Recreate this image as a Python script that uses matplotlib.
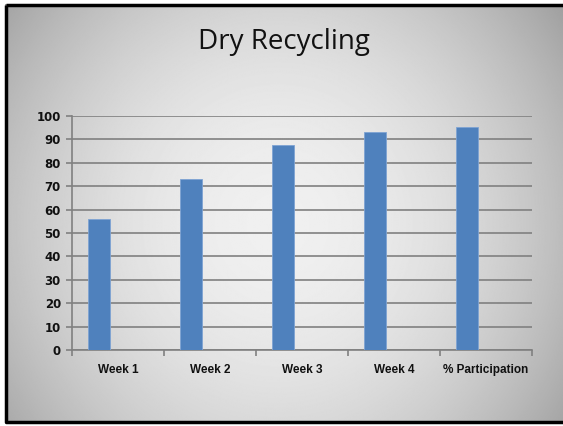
import matplotlib
matplotlib.use("Agg")
import matplotlib.pyplot as plt
import numpy as np

# data
categories = ["Week 1", "Week 2", "Week 3", "Week 4", "% Participation"]
values = [56, 73, 87.5, 93, 95.5]
y_ticks = list(range(0, 101, 10))

W, H = 563, 426
fig = plt.figure(figsize=(W / 100, H / 100), dpi=100)
fig.patch.set_facecolor("white")

# background: radial grey gradient like the slide
bg = fig.add_axes([0, 0, 1, 1])
yy, xx = np.mgrid[0:H, 0:W]
r2 = ((xx - 275) / 360.0) ** 2 + ((yy - 225) / 380.0) ** 2
shade = np.clip(0.94 - 0.32 * r2, 0.5, 1.0)
bg.imshow(shade, cmap="gray", vmin=0, vmax=1, aspect="auto",
          extent=[5, W, 422, 4], interpolation="bilinear")
bg.set_xlim(0, W)
bg.set_ylim(H, 0)
bg.axis("off")
# frame: top, left and bottom edges only
bg.plot([6, 6, W], [4.5, 422, 422], color="black", linewidth=2.5,
        solid_capstyle="butt")
bg.plot([6, W], [4.5, 4.5], color="black", linewidth=2.5,
        solid_capstyle="butt")

fig.text(0.505, 1 - 42 / H, "Dry Recycling", ha="center", va="center",
         fontsize=20, family=["Open Sans", "DejaVu Sans"], color="#111111")

ax = fig.add_axes([72 / W, 1 - 350 / H, (532 - 72) / W, (350 - 116) / H])
ax.patch.set_alpha(0)
x = np.arange(len(categories))
# bars sit left of the category centre, like the original
ax.bar(x - 0.21, values, width=0.24, color="#4f81bd", edgecolor="#7ea3d3",
       linewidth=0.6, zorder=3)

ax.set_xlim(-0.5, len(categories) - 0.5)
ax.set_ylim(0, 100)
ax.set_yticks(y_ticks)
ax.set_yticklabels([str(v) for v in y_ticks], fontsize=8.5, fontweight="bold",
                   family=["DejaVu Sans"], color="#111111")
ax.yaxis.grid(True, color="#808080", linewidth=1.2, zorder=1)
ax.set_axisbelow(True)

ax.set_xticks(x)
ax.set_xticklabels(categories, fontsize=8.5, fontweight="bold",
                   family=["Liberation Sans", "DejaVu Sans"], color="#111111")
ax.set_xticks(np.arange(len(categories) + 1) - 0.5, minor=True)
ax.tick_params(axis="x", which="major", length=0, pad=10)
ax.tick_params(axis="x", which="minor", length=4, color="#808080", width=1.2)
ax.tick_params(axis="y", length=4, color="#808080", width=1.2, pad=4)

for side in ["top", "right"]:
    ax.spines[side].set_visible(False)
ax.spines["left"].set_color("#808080")
ax.spines["bottom"].set_color("#808080")
ax.spines["left"].set_linewidth(1.2)
ax.spines["bottom"].set_linewidth(1.2)

fig.savefig("out.png", dpi=100, facecolor="white")
